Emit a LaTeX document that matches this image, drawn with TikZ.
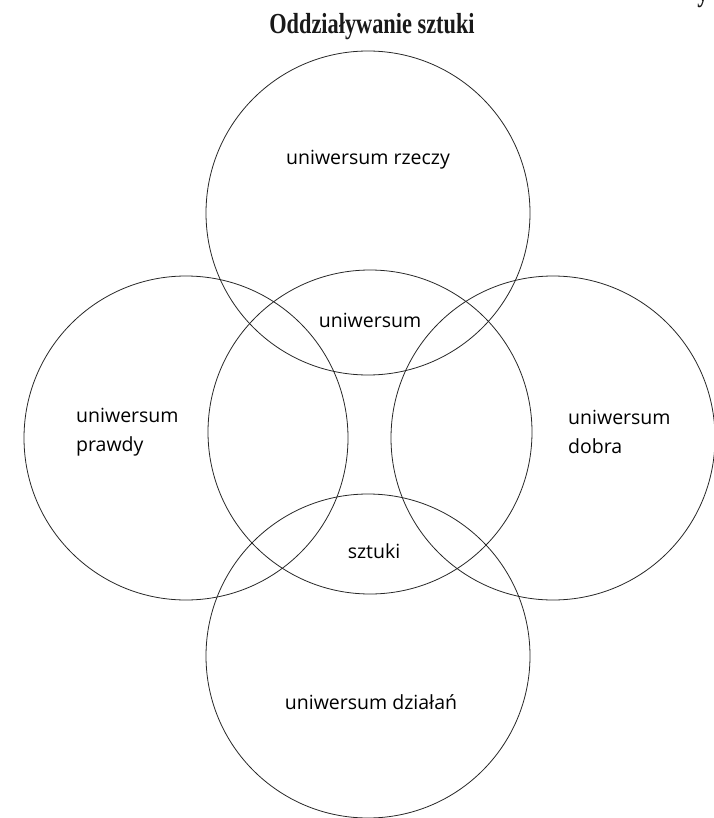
\documentclass[tikz,border=0pt]{standalone}
\usepackage{fontspec}
\setmainfont{Open Sans}
\newfontfamily\titlefont{Liberation Serif}[FakeStretch=0.77]
\usetikzlibrary{positioning}
\tikzset{
  ring/.style={draw=black!85, line width=0.8pt},
  uniw/.style={font=\fontsize{19.5}{29}\selectfont, text=black, inner sep=0pt},
  heading/.style={font=\titlefont\bfseries\fontsize{29}{34}\selectfont, text=black!90, inner sep=0pt}
}

\begin{document}
\begin{tikzpicture}[x=1pt, y=-1pt]
    \useasboundingbox (0,0) rectangle (713,818);
    \def\radius{162pt}

    % Tytuł
    \node[heading] (title) at (372,27) {Oddziaływanie sztuki};
    \node[heading, anchor=base] (cut) at (703,2) {y};

    % Środki kół
    \coordinate (rzeczy) at (368,213);
    \coordinate (srodek) at (370,432);
    \coordinate (prawdy) at (186,438);
    \coordinate (dobra)  at (553,438);
    \coordinate (dzialan) at (368,656);

    % Koła
    \draw[ring] (rzeczy)  circle[radius=\radius];
    \draw[ring] (srodek)  circle[radius=\radius];
    \draw[ring] (prawdy)  circle[radius=\radius];
    \draw[ring] (dobra)   circle[radius=\radius];
    \draw[ring] (dzialan) circle[radius=\radius];

    % Podpisy
    \node[uniw] (trzeczy) at (368,160) {uniwersum rzeczy};
    \node[uniw] (tuniw) at (370,320) {uniwersum};
    \node[uniw, anchor=west, align=left] (tprawdy) at (76,432) {uniwersum\\prawdy};
    \node[uniw, anchor=west, align=left] (tdobra) at (568,432) {uniwersum\\dobra};
    \node[uniw] (tsztuki) at (374,551) {sztuki};
    \node[uniw] (tdzialan) at (371,702) {uniwersum działań};
\end{tikzpicture}
\end{document}
